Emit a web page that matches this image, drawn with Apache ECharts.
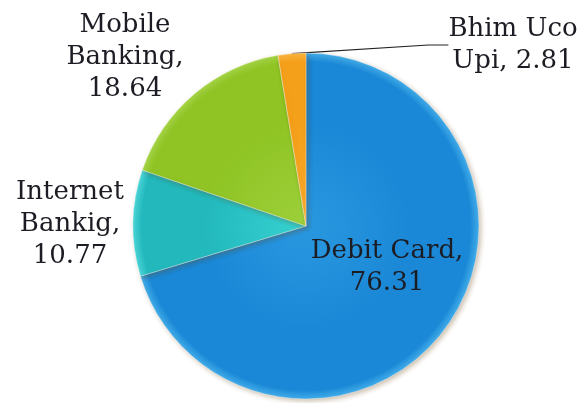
<!DOCTYPE html>
<html>
<head>
<meta charset="utf-8">
<script src="https://cdn.jsdelivr.net/npm/echarts@6/dist/echarts.min.js"></script>
<style>
  html, body { margin: 0; padding: 0; background: #ffffff; }
  #chart { width: 585px; height: 403px; }
</style>
</head>
<body>
<div id="chart"></div>
<script>
// Share of digital payment channels
const categories = ['Debit Card', 'Internet Bankig', 'Mobile Banking', 'Bhim Uco Upi'];
const values = [76.31, 10.77, 18.64, 2.81];

// Shading per slice: [inner tone, body tone, rim highlight]
const sliceColors = [
  ['#2a98e0', '#1a88d6', '#43aeea'],
  ['#38d2d2', '#22b8bc', '#4cd8dc'],
  ['#9dd03a', '#8fc424', '#a6d648'],
  ['#f9aa2a', '#f5a01a', '#fbb640']
];

// Where each label block sits (centre of the text)
const labelSpots = [
  { x: 387, y: 267 },
  { x: 70, y: 224 },
  { x: 125, y: 57 },
  { x: 513, y: 45 }
];

const cx = 306, cy = 226, R = 173;

const chart = echarts.init(document.getElementById('chart'), null, { renderer: 'canvas' });

const data = categories.map((name, i) => ({
  name: name,
  value: values[i],
  itemStyle: {
    color: {
      type: 'radial', x: cx, y: cy, r: R, global: true,
      colorStops: [
        { offset: 0, color: sliceColors[i][0] },
        { offset: 0.6, color: sliceColors[i][1] },
        { offset: 0.95, color: sliceColors[i][1] },
        { offset: 1, color: sliceColors[i][2] }
      ]
    }
  },
  labelLine: { show: i === 3 }
}));

chart.setOption({
  animation: false,
  backgroundColor: '#ffffff',
  series: [{
    type: 'pie',
    center: [cx, cy],
    radius: [0, R],
    startAngle: 90,
    clockwise: true,
    data: data,
    itemStyle: {
      borderColor: 'rgba(255,255,255,0.35)',
      borderWidth: 1,
      shadowBlur: 5,
      shadowOffsetX: 2,
      shadowOffsetY: 2,
      shadowColor: 'rgba(110,70,20,0.35)'
    },
    label: {
      show: true,
      position: 'outside',
      alignTo: 'none',
      overflow: 'none',
      formatter: function (p) {
        if (p.dataIndex === 3) return 'Bhim Uco\nUpi, ' + p.value;
        if (p.dataIndex === 0) return p.name + ',\n' + p.value;
        const parts = p.name.split(' ');
        return parts[0] + '\n' + parts[1] + ',\n' + p.value;
      },
      fontFamily: 'DejaVu Serif',
      fontSize: 26,
      lineHeight: 32,
      color: '#1c1c24',
      align: 'center'
    },
    labelLine: {
      show: false,
      length: 10,
      length2: 20,
      lineStyle: { color: '#222222', width: 1.2 }
    },
    labelLayout: function (params) {
      const s = labelSpots[params.dataIndex];
      return {
        x: s.x,
        y: s.y,
        align: 'center',
        verticalAlign: 'middle',
        hideOverlap: false,
        moveOverlap: null
      };
    }
  }]
});
</script>
</body>
</html>
